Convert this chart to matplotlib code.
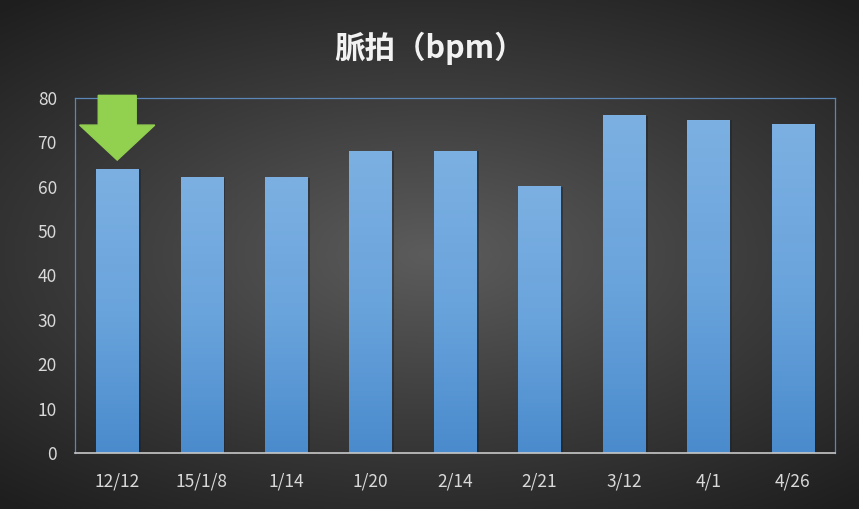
import numpy as np
import matplotlib
matplotlib.use('Agg')
import matplotlib.pyplot as plt
from matplotlib.patches import Polygon
from matplotlib.colors import LinearSegmentedColormap

plt.rcParams['font.family'] = ['Noto Sans CJK JP', 'DejaVu Sans']

dates = ['12/12', '15/1/8', '1/14', '1/20', '2/14', '2/21', '3/12', '4/1', '4/26']
pulse = [64, 62, 62, 68, 68, 60, 76, 75, 74]
title = '脈拍（bpm）'

fig = plt.figure(figsize=(8.59, 5.09), dpi=100)

# radial dark background
bg = fig.add_axes([0, 0, 1, 1])
yy, xx = np.mgrid[-1:1:300j, -1:1:500j]
r = np.sqrt((xx * 0.85) ** 2 + (yy * 1.0) ** 2)
bg_cmap = LinearSegmentedColormap.from_list('bg', ['#5c5c5c', '#3c3c3c', '#1e1e1e'])
bg.imshow(r, cmap=bg_cmap, aspect='auto', extent=[0, 1, 0, 1], vmin=0, vmax=1.3)
bg.set_axis_off()

ax = fig.add_axes([75 / 859, 56 / 509, 760 / 859, 355 / 509])
ax.patch.set_alpha(0)
x = np.arange(len(dates))
bars = ax.bar(x, pulse, width=0.5, color='none', zorder=2)

bar_cmap = LinearSegmentedColormap.from_list('bar', ['#4a8bcd', '#6aa4dc', '#7cb0e2'])
grad = np.linspace(0, 1, 256).reshape(-1, 1)
for b in bars:
    x0, w, h = b.get_x(), b.get_width(), b.get_height()
    ax.add_patch(plt.Rectangle((x0 + 0.03, 0), w, h, color='#1a2230', alpha=0.5, zorder=1, lw=0))
    ax.imshow(grad, cmap=bar_cmap, origin='lower', aspect='auto',
              extent=[x0, x0 + w, 0, h], zorder=2)

ax.set_xlim(-0.5, len(dates) - 0.5)
ax.set_ylim(0, 80)
ax.set_yticks(range(0, 81, 10))
ax.set_xticks(x)
ax.set_xticklabels(dates)
ax.tick_params(colors='#d9d9d9', labelsize=12.5, length=0, pad=14)
ax.tick_params(axis='y', pad=13)
for s in ['top', 'left', 'right']:
    ax.spines[s].set_color('#5b86b8')
    ax.spines[s].set_linewidth(0.9)
ax.spines['bottom'].set_color('#c8c8c8')
ax.spines['bottom'].set_linewidth(1.2)

# green arrow pointing at the first bar
cx = x[0]
top, neck, tip = 80.6, 73.9, 66.0
sw, hw = 0.225, 0.445
arrow = Polygon([(cx - sw, top), (cx + sw, top), (cx + sw, neck), (cx + hw, neck),
                 (cx, tip), (cx - hw, neck), (cx - sw, neck)],
                closed=True, color='#92d050', zorder=5, clip_on=False)
ax.add_patch(arrow)

fig.text(430 / 859, 1 - 48 / 509, title, color='#f2f2f2', fontsize=22,
         fontweight='bold', ha='center', va='center')

fig.savefig('out.png', dpi=100)
